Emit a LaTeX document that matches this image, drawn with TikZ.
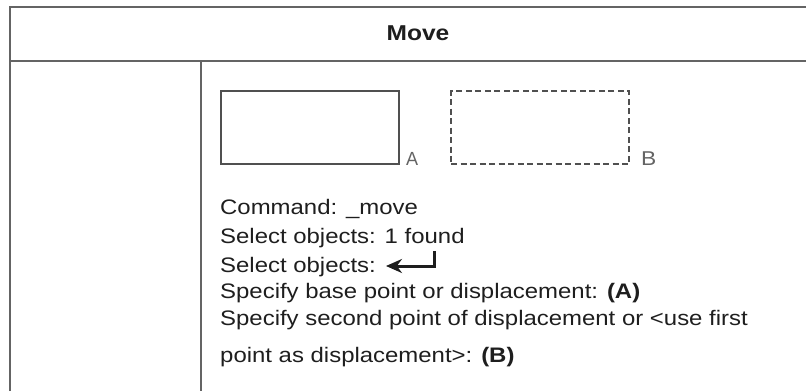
\documentclass[tikz,border=0pt]{standalone}
\usepackage{fontspec}
\setmainfont{Liberation Sans}[FakeStretch=1.14]
\usetikzlibrary{arrows.meta}
\definecolor{rule}{HTML}{646464}
\definecolor{ink}{HTML}{1E1E1E}
\tikzset{
  frameline/.style={draw=rule, line width=2.2pt},
  shapebox/.style={draw=rule!80!black, line width=2.4pt},
  dashbox/.style={draw=rule!80!black, line width=2.4pt, dash pattern=on 6pt off 3.5pt},
  cmdline/.style={anchor=base west, inner sep=0pt, text=ink, font=\fontsize{21}{24}\selectfont},
  lbl/.style={anchor=base west, inner sep=0pt, text=rule, font=\fontsize{20}{24}\selectfont},
}
\begin{document}
\begin{tikzpicture}[x=1pt,y=-1pt]
\useasboundingbox (0,0) rectangle (806,391);
% frame
\coordinate (tl) at (10,7);
\coordinate (tr) at (806,7);
\coordinate (bl) at (10,391);
\coordinate (hl) at (10,61);
\coordinate (hr) at (806,61);
\coordinate (dt) at (201,61);
\coordinate (db) at (201,391);
\draw[frameline] (bl) -- (tl) -- (tr);
\draw[frameline] (hl) -- (hr);
\draw[frameline] (dt) -- (db);
\node[inner sep=0pt, text=ink, font=\fontsize{21.5}{24}\selectfont\bfseries] (title) at (418,33) {Move};
% shapes
\node[shapebox, minimum width=178pt, minimum height=73pt, inner sep=0pt, anchor=north west] (ra) at (220,90) {};
\node[dashbox, minimum width=178pt, minimum height=73pt, inner sep=0pt, anchor=north west] (rb) at (450,90) {};
\node[lbl, font=\fontsize{19}{24}\selectfont\addfontfeatures{FakeStretch=0.95}] (la) at (406,165) {A};
\node[lbl] (lb) at (641,165) {B};
% command lines
\node[cmdline] (l1) at (220,214.5) {Command: \_move};
\node[cmdline] (l2) at (220,243) {Select objects: 1 found};
\node[cmdline] (l3) at (220,272.5) {Select objects:};
\node[cmdline] (l4) at (220,298) {Specify base point or displacement: \textbf{(A)}};
\node[cmdline] (l5) at (220,325.5) {Specify second point of displacement or <use first};
\node[cmdline] (l6) at (220,362) {point as displacement>: \textbf{(B)}};
% enter arrow
\coordinate (ea) at (434,251);
\coordinate (eb) at (386,266);
\draw[ink, line width=3pt, -{Stealth[length=16pt,width=14pt]}] (ea) |- (eb);
\end{tikzpicture}
\end{document}
